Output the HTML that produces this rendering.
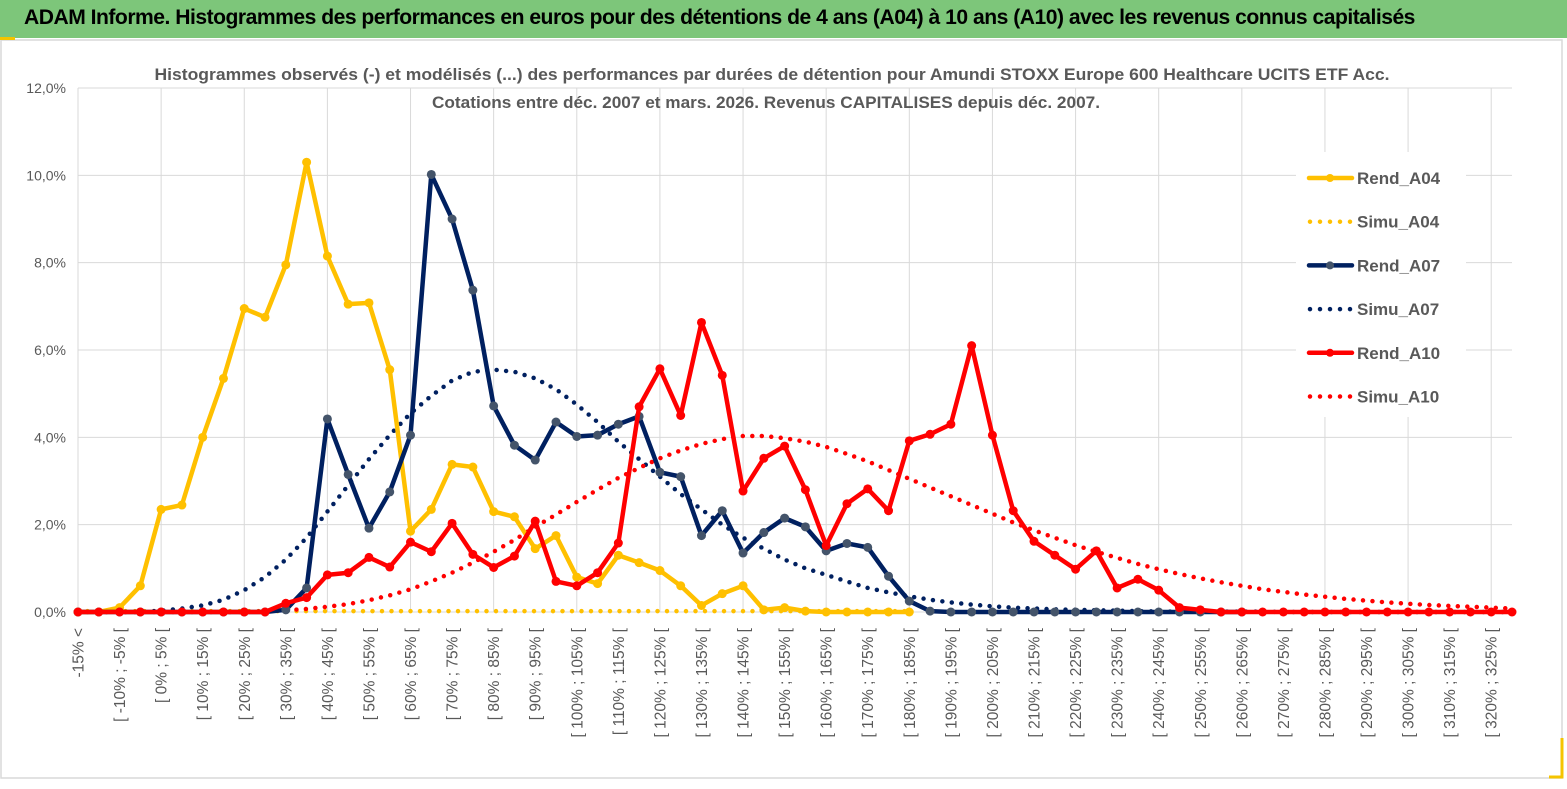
<!DOCTYPE html>
<html><head><meta charset="utf-8"><style>
html,body{margin:0;padding:0;background:#fff;}
body{width:1567px;height:789px;overflow:hidden;position:relative;font-family:"Liberation Sans",sans-serif;}
#hdr{position:absolute;left:0;top:0;width:1567px;height:38px;background:#7dc67a;border-bottom:2px solid #fff;}
#hdr span{position:absolute;left:24px;top:6px;font-size:21px;font-weight:bold;color:#000;letter-spacing:-0.5px;transform:scaleX(1.005);transform-origin:left;white-space:nowrap;}
svg{position:absolute;left:0;top:0;}
</style></head><body>
<div id="hdr"><span>ADAM Informe. Histogrammes des performances en euros pour des détentions de 4 ans (A04) à 10 ans (A10) avec les revenus connus capitalisés</span></div>
<svg id="chart" width="1567" height="789"></svg>
<script>
const rendA04=[0,0,0.1,0.6,2.35,2.45,4.0,5.35,6.95,6.75,7.95,10.3,8.15,7.05,7.08,5.55,1.85,2.35,3.38,3.32,2.3,2.18,1.45,1.75,0.8,0.65,1.3,1.13,0.95,0.6,0.15,0.42,0.6,0.05,0.1,0.02,0,0,0,0,0];
const simuA04=[0.02,0.02,0.02,0.02,0.02,0.02,0.02,0.02,0.02,0.02,0.02,0.02,0.02,0.02,0.02,0.02,0.02,0.02,0.02,0.02,0.02,0.02,0.02,0.02,0.02,0.02,0.02,0.02,0.02,0.02,0.02,0.02,0.02,0.02,0.02,0.02,0.02,0.02,0.02,0.02,0.02];
const rendA07=[0,0,0,0,0,0,0,0,0,0,0.05,0.55,4.42,3.15,1.92,2.75,4.05,10.02,9.0,7.37,4.72,3.82,3.48,4.35,4.02,4.05,4.3,4.48,3.2,3.1,1.75,2.32,1.35,1.82,2.15,1.95,1.4,1.57,1.48,0.82,0.25,0.02,0,0,0,0,0,0,0,0,0,0,0,0,0,0,0];
const simuA07=[0,0,0,0,0.03,0.08,0.15,0.28,0.5,0.8,1.2,1.7,2.3,2.9,3.5,4.05,4.55,4.95,5.3,5.5,5.55,5.5,5.35,5.1,4.75,4.35,3.9,3.5,3.1,2.7,2.35,2.0,1.7,1.45,1.2,1.0,0.85,0.7,0.55,0.45,0.36,0.28,0.22,0.17,0.13,0.1,0.08,0.06,0.05,0.04,0.03,0.02,0.01,0.01,0.01,0.01,0.01,0.01,0,0,0,0,0,0,0,0,0,0,0,0];
const rendA10=[0,0,0,0,0,0,0,0,0,0,0.2,0.33,0.85,0.9,1.25,1.03,1.6,1.38,2.03,1.32,1.02,1.28,2.08,0.7,0.6,0.9,1.58,4.7,5.57,4.5,6.63,5.42,2.77,3.52,3.8,2.8,1.52,2.48,2.82,2.32,3.92,4.07,4.3,6.1,4.05,2.32,1.62,1.3,0.98,1.4,0.55,0.75,0.5,0.1,0.05,0,0,0,0,0,0,0,0,0,0,0,0,0,0,0];
const simuA10=[0,0,0,0,0,0,0,0,0,0.02,0.04,0.07,0.12,0.18,0.27,0.38,0.52,0.7,0.9,1.13,1.38,1.65,1.95,2.23,2.52,2.8,3.07,3.3,3.52,3.7,3.85,3.96,4.03,4.03,3.98,3.9,3.78,3.62,3.45,3.25,3.05,2.85,2.65,2.45,2.25,2.05,1.87,1.7,1.53,1.38,1.24,1.1,0.98,0.87,0.77,0.68,0.6,0.52,0.46,0.4,0.35,0.3,0.26,0.22,0.19,0.16,0.14,0.12,0.1,0.08];
const yTicks=[0,2,4,6,8,10,12];
const categories=["-15% <"];
for(let b=-15;b<330;b+=5)categories.push("[ "+b+"% ; "+(b+5)+"% [");

const NS="http://www.w3.org/2000/svg";
const svg=document.getElementById('chart');
const X0=78,X1=1512,Y0=612,Y1=88,YMAX=12;
const N=categories.length;
const xs=i=>X0+i*(X1-X0)/(N-1);
const ys=v=>Y0-v*(Y0-Y1)/YMAX;
function mk(tag,attrs,parent){const e=document.createElementNS(NS,tag);for(const k in attrs)e.setAttribute(k,attrs[k]);(parent||svg).appendChild(e);return e;}

// frame
const fr=mk('rect',{x:1,y:40,width:1561,height:738,fill:'none',stroke:'#d9d9d9','stroke-width':1.5});


const acc1=mk('rect',{x:0,y:37,width:15,height:3,fill:'#f5c400'});


const acc2=mk('polyline',{points:'1562,738 1562,777 1549,777',fill:'none',stroke:'#f5c400','stroke-width':3});



// gridlines
yTicks.forEach(t=>{
  const l=mk('line',{x1:X0,x2:X1,y1:ys(t),y2:ys(t),stroke:'#d9d9d9','stroke-width':1});
  
  
  const tx=mk('text',{x:66,y:ys(t)+5,'text-anchor':'end','font-size':14,fill:'#595959','font-family':'Liberation Sans, sans-serif'});
  tx.textContent=t.toFixed(1).replace('.',',')+'%';
  
  
});
for(let i=0;i<N;i+=4){
  const l=mk('line',{x1:xs(i),x2:xs(i),y1:Y1,y2:Y0,stroke:'#d9d9d9','stroke-width':1});
  
  
}
// x labels
for(let i=0;i<N;i+=2){
  const tx=mk('text',{x:0,y:0,'text-anchor':'end','font-size':15.5,fill:'#595959','font-family':'Liberation Sans, sans-serif',transform:`translate(${xs(i)+5.5},628) rotate(-90)`});
  tx.textContent=categories[i];
  
  
}
// titles
const t1=mk('text',{x:772,y:80,'text-anchor':'middle','font-size':17,'font-weight':'bold',fill:'#595959','font-family':'Liberation Sans, sans-serif',textLength:1235,lengthAdjust:'spacingAndGlyphs'});
t1.textContent="Histogrammes observés (-) et modélisés (...) des performances par durées de détention pour Amundi STOXX Europe 600 Healthcare UCITS ETF Acc.";


const t2=mk('text',{x:766,y:108,'text-anchor':'middle','font-size':17,'font-weight':'bold',fill:'#595959','font-family':'Liberation Sans, sans-serif',textLength:668,lengthAdjust:'spacingAndGlyphs'});
t2.textContent="Cotations entre déc. 2007 et mars. 2026. Revenus CAPITALISES depuis déc. 2007.";



function pts(arr){return arr.map((v,i)=>xs(i)+','+ys(v)).join(' ');}
function dotted(arr,color,name){
  const p=mk('polyline',{points:pts(arr),fill:'none',stroke:color,'stroke-width':4.5,'stroke-dasharray':'0 9.5','stroke-linecap':'round'});
  
  
}
function solid(arr,color,mcolor,name){
  const g=mk('g',{});
  
  
  mk('polyline',{points:pts(arr),fill:'none',stroke:color,'stroke-width':4.5,'stroke-linejoin':'round'},g);
  arr.forEach((v,i)=>{
    const c=mk('circle',{cx:xs(i),cy:ys(v),r:4.5,fill:mcolor},g);
    
    
  });
}
dotted(simuA04,'#ffc000','series-simu-a04');
dotted(simuA07,'#002060','series-simu-a07');
dotted(simuA10,'#ff0000','series-simu-a10');
solid(rendA04,'#ffc000','#ffc000','series-rend-a04');
solid(rendA07,'#002060','#44546a','series-rend-a07');
solid(rendA10,'#ff0000','#ff0000','series-rend-a10');

// legend
const lg=mk('g',{});


mk('rect',{x:1296,y:152,width:170,height:265,fill:'#fff'},lg);
const leg=[['Rend_A04','#ffc000','#ffc000',false],['Simu_A04','#ffc000','',true],['Rend_A07','#002060','#44546a',false],['Simu_A07','#002060','',true],['Rend_A10','#ff0000','#ff0000',false],['Simu_A10','#ff0000','',true]];
leg.forEach((e,k)=>{
  const y=178+k*43.7;
  const g=mk('g',{},lg);
  
  
  if(e[3]){mk('line',{x1:1310,x2:1352,y1:y,y2:y,stroke:e[1],'stroke-width':4.5,'stroke-dasharray':'0 10','stroke-linecap':'round'},g);}
  else{mk('line',{x1:1309,x2:1352,y1:y,y2:y,stroke:e[1],'stroke-width':4.5,'stroke-linecap':'round'},g);mk('circle',{cx:1330,cy:y,r:4,fill:e[2]},g);}
  const tx=mk('text',{x:1357,y:y+6,'font-size':17,'font-weight':'bold',fill:'#595959','font-family':'Liberation Sans, sans-serif'},g);
  tx.textContent=e[0];
});
</script>
</body></html>
